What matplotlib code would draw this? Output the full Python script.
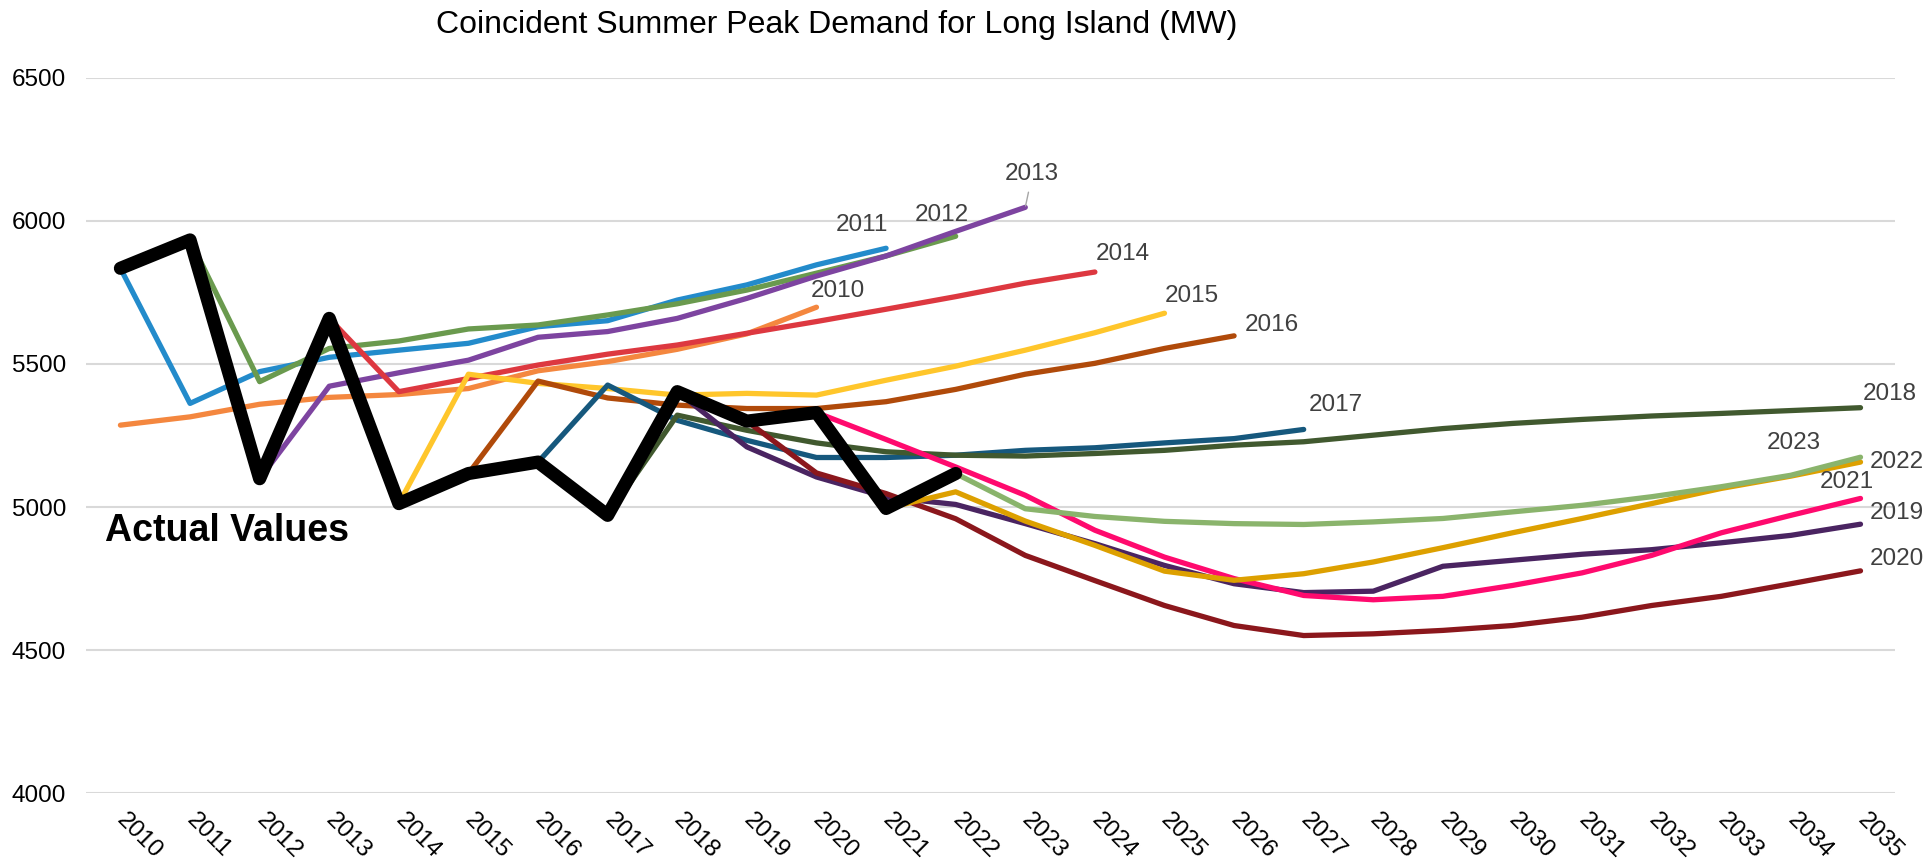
import numpy as np
import matplotlib
matplotlib.use("Agg")
import matplotlib.pyplot as plt

plt.rcParams['font.family'] = ['Liberation Sans', 'DejaVu Sans']

# datos: demanda real y pronosticos por año de publicacion (MW)
years = list(range(2010, 2036))
actual_years = list(range(2010, 2023))
actual = [5834, 5933, 5099, 5659, 5012, 5117, 5157, 4971, 5403, 5300, 5330, 4995, 5117]

vintages = [2010, 2011, 2012, 2013, 2014, 2015, 2016, 2017, 2018, 2019, 2020, 2021, 2022, 2023]

f2010 = [5286, 5315, 5359, 5383, 5393, 5414, 5476, 5508, 5551, 5605, 5698]
f2011 = [5362, 5473, 5523, 5548, 5572, 5630, 5651, 5723, 5776, 5846, 5904]
f2012 = [5438, 5554, 5580, 5622, 5636, 5671, 5710, 5758, 5817, 5877, 5946]
f2013 = [5422, 5469, 5513, 5593, 5613, 5659, 5729, 5807, 5877, 5963, 6047]
f2014 = [5403, 5449, 5496, 5534, 5566, 5607, 5648, 5691, 5735, 5782, 5821]
f2015 = [5464, 5432, 5414, 5391, 5397, 5391, 5443, 5492, 5548, 5609, 5677]
f2016 = [5440, 5381, 5356, 5344, 5344, 5368, 5411, 5464, 5502, 5554, 5598]
f2017 = [5426, 5303, 5233, 5173, 5173, 5181, 5198, 5207, 5224, 5239, 5271]
f2018 = [5321, 5268, 5224, 5193, 5181, 5178, 5187, 5198, 5216, 5228, 5251, 5274,
         5292, 5306, 5318, 5327, 5337, 5347]
f2019 = [5210, 5105, 5035, 5009, 4942, 4872, 4796, 4732, 4701, 4706, 4793, 4814,
         4835, 4851, 4875, 4901, 4940]
f2020 = [5119, 5047, 4959, 4831, 4743, 4656, 4586, 4551, 4557, 4569, 4586, 4615,
         4656, 4688, 4732, 4777]
f2021 = [5236, 5140, 5041, 4919, 4825, 4750, 4691, 4676, 4688, 4726, 4770, 4831,
         4910, 4971, 5030]
f2022 = [5053, 4951, 4866, 4776, 4744, 4767, 4808, 4858, 4910, 4960, 5012, 5065,
         5108, 5157]
f2023 = [4994, 4967, 4950, 4942, 4939, 4948, 4960, 4983, 5006, 5036, 5071, 5111, 5174]

forecasts = [f2010, f2011, f2012, f2013, f2014, f2015, f2016, f2017,
             f2018, f2019, f2020, f2021, f2022, f2023]

colors = ['#F4873F', '#238BCB', '#6A9A4E', '#7D44A0', '#DD3840', '#FFC62B', '#B04A0A',
          '#16587D', '#41592F', '#4A2461', '#8B171C', '#FF0A6E', '#DDA000', '#8AB46C']

# desplazamiento de cada etiqueta respecto al final de la linea (px: derecha, arriba)
label_offsets = [(21, 16), (-24, 23), (-14, 21), (7, 33), (28, 18), (27, 17), (38, 11),
                 (32, 24), (29, 14), (36, 11), (36, 12), (-14, 16), (36, 0), (-67, 14)]

PX = 0.72  # puntos por pixel a dpi 100

fig = plt.figure(figsize=(19.33, 8.6), dpi=100)
ax = fig.add_axes([0.0443, 0.0776, 0.9362, 0.8321])

for vint, vals, col, off in zip(vintages, forecasts, colors, label_offsets):
    xs = list(range(vint, vint + len(vals)))
    ys = list(vals)
    if vint > 2010:
        # cada pronostico arranca desde el valor real del año anterior
        prev = actual[actual_years.index(vint - 1)]
        xs = [vint - 1] + xs
        ys = [prev] + ys
    ax.plot(xs, ys, color=col, lw=3.8, solid_capstyle='round',
            solid_joinstyle='round', zorder=2)
    arrow = None
    if vint == 2013:
        arrow = dict(arrowstyle='-', color='#A6A6A6', lw=1, shrinkA=3, shrinkB=1)
    ax.annotate(str(vint), xy=(xs[-1], ys[-1]), xytext=(off[0] * PX, off[1] * PX),
                textcoords='offset points', ha='center', va='center',
                fontsize=17.5, color='#404040', arrowprops=arrow, zorder=4)

ax.plot(actual_years, actual, color='black', lw=9.5, solid_capstyle='round',
        solid_joinstyle='round', zorder=3)

ax.text(2009.78, 4916, 'Actual Values', fontsize=27, fontweight='bold',
        ha='left', va='center', color='black')

ax.set_xlim(2009.5, 2035.5)
ax.set_ylim(4000, 6500)
ax.set_yticks([4000, 4500, 5000, 5500, 6000, 6500])
ax.set_xticks(years)
ax.set_xticklabels([str(y) for y in years])
ax.tick_params(axis='both', length=0, labelsize=17.5, colors='black')
ax.tick_params(axis='y', pad=14)
ax.tick_params(axis='x', pad=17)
for lbl in ax.get_xticklabels():
    lbl.set_rotation(-45)
    lbl.set_rotation_mode('anchor')
    lbl.set_ha('left')
    lbl.set_va('center')

ax.grid(axis='y', color='#D9D9D9', lw=1.5)
ax.set_axisbelow(True)
for s in ax.spines.values():
    s.set_visible(False)

fig.text(0.433, 1 - 33 / 860, 'Coincident Summer Peak Demand for Long Island (MW)',
         ha='center', va='baseline', fontsize=23, color='black')

fig.savefig('out.png', dpi=100, facecolor='white')
